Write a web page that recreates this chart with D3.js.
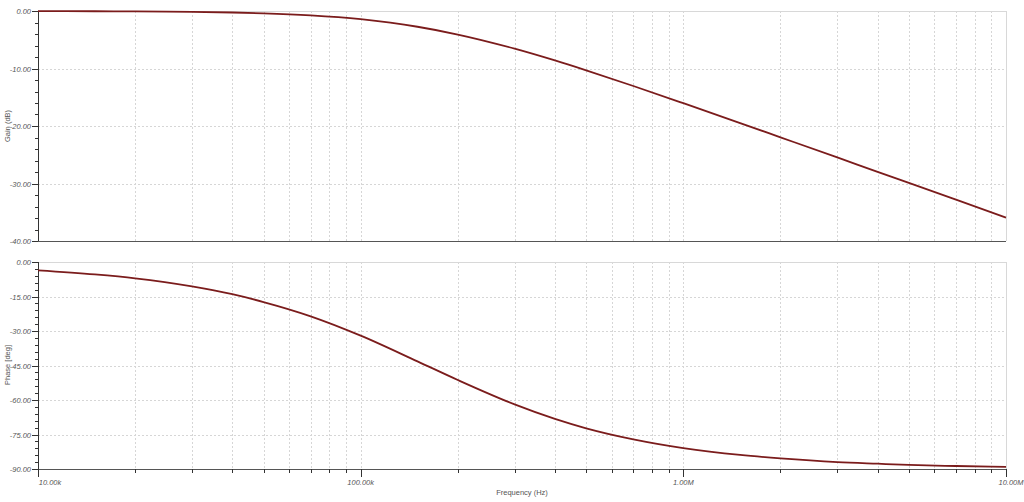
<!DOCTYPE html>
<html><head><meta charset="utf-8">
<script src="https://cdn.jsdelivr.net/npm/d3@7"></script>
<style>body{margin:0;background:#fff}svg{display:block}text{font-family:"Liberation Sans",Arial,sans-serif}</style>
</head><body><svg id="c" width="1024" height="502"></svg>
<script>
// Frequencies (Hz)
const freqs = [10e3,15e3,20e3,30e3,40e3,50e3,70e3,100e3,150e3,200e3,300e3,400e3,500e3,700e3,1e6,1.5e6,2e6,3e6,4e6,5e6,7e6,10e6];
// Gain (dB)
const gainDb = [-0.02,-0.04,-0.07,-0.15,-0.26,-0.40,-0.76,-1.43,-2.74,-4.09,-6.55,-8.60,-10.32,-13.04,-16.03,-19.49,-21.97,-25.47,-27.97,-29.90,-32.82,-35.92];
// Phase (deg)
const phaseDeg = [-3.6,-5.4,-7.1,-10.6,-14.0,-17.4,-23.6,-32.0,-43.2,-51.3,-61.9,-68.2,-72.3,-77.1,-80.9,-83.9,-85.4,-87.0,-87.7,-88.2,-88.7,-89.1];
const xTickVals = [1e4,1e5,1e6,1e7];
const xTickLabels = ["10.00k","100.00k","1.00M","10.00M"];
const gainTicks = [0,-10,-20,-30,-40];
const phaseTicks = [0,-15,-30,-45,-60,-75,-90];

const svg = d3.select("#c");
const x = d3.scaleLog().domain([1e4,1e7]).range([38,1006]);
const yG = d3.scaleLinear().domain([-40,0]).range([241,11]);
const yP = d3.scaleLinear().domain([-90,0]).range([469,262]);

const minorX = [];
for (let d=1e4; d<1e7; d*=10) for (let k=1;k<10;k++) minorX.push(d*k);
minorX.push(1e7);

function panel(y, ticks, step, label, data, labelY){
  const [y0,y1] = y.domain();
  const g = svg.append("g");
  g.selectAll(".vg").data(minorX.filter(v=>v>1e4&&v<1e7)).enter().append("line")
    .attr("x1",d=>Math.round(x(d))+0.5).attr("x2",d=>Math.round(x(d))+0.5).attr("y1",y(y1)).attr("y2",y(y0))
    .attr("stroke","#d6d6d6").attr("stroke-width",1).attr("stroke-dasharray","2,2");
  g.selectAll(".hg").data(ticks.filter(t=>t!==y0&&t!==y1)).enter().append("line")
    .attr("x1",38).attr("x2",1006).attr("y1",d=>Math.round(y(d))+0.5).attr("y2",d=>Math.round(y(d))+0.5)
    .attr("stroke","#d6d6d6").attr("stroke-dasharray","2,2");
  g.append("line").attr("x1",38).attr("x2",1006).attr("y1",y(y1)+0.5).attr("y2",y(y1)+0.5).attr("stroke","#d8d8d8");
  g.append("line").attr("x1",1006.5).attr("x2",1006.5).attr("y1",y(y1)).attr("y2",y(y0)).attr("stroke","#d8d8d8");
  g.append("line").attr("x1",38).attr("x2",1006).attr("y1",y(y0)+0.5).attr("y2",y(y0)+0.5).attr("stroke","#555");
  g.append("line").attr("x1",38.5).attr("x2",38.5).attr("y1",y(y1)).attr("y2",y(y0)).attr("stroke","#333");
  const minors = d3.range(y0, y1+0.001, step);
  g.selectAll(".mt").data(minors).enter().append("line")
    .attr("x1",35).attr("x2",38).attr("y1",d=>Math.round(y(d))+0.5).attr("y2",d=>Math.round(y(d))+0.5).attr("stroke","#333");
  g.selectAll(".Mt").data(ticks).enter().append("line")
    .attr("x1",32).attr("x2",38).attr("y1",d=>Math.round(y(d))+0.5).attr("y2",d=>Math.round(y(d))+0.5).attr("stroke","#333");
  g.selectAll(".tl").data(ticks).enter().append("text")
    .attr("x",31).attr("y",d=>y(d)+3).attr("text-anchor","end")
    .attr("font-size",7.5).attr("font-style","italic").attr("fill","#555")
    .text(d=>d.toFixed(2));
  g.append("text").attr("transform",`translate(10,${labelY}) rotate(-90)`)
    .attr("text-anchor","middle").attr("font-size",7.5).attr("fill","#555").text(label);
  const line = d3.line().x((d,i)=>x(freqs[i])).y(d=>y(d)).curve(d3.curveMonotoneX);
  g.append("path").datum(data).attr("d",line).attr("fill","none")
    .attr("stroke","#7b1c1c").attr("stroke-width",1.8);
}
panel(yG, gainTicks, 2, "Gain (dB)", gainDb, 126);
panel(yP, phaseTicks, 3, "Phase [deg]", phaseDeg, 365);

svg.selectAll(".xm").data(minorX).enter().append("line")
  .attr("x1",d=>Math.round(x(d))+0.5).attr("x2",d=>Math.round(x(d))+0.5)
  .attr("y1",469).attr("y2",d=>xTickVals.includes(d)?477:473).attr("stroke","#333");
svg.selectAll(".xl").data(xTickVals).enter().append("text")
  .attr("x",(d,i)=>x(d)+(i===3?5:i===0?12:0)).attr("y",485).attr("text-anchor","middle")
  .attr("font-size",7.5).attr("font-style","italic").attr("fill","#555")
  .text((d,i)=>xTickLabels[i]);
svg.append("text").attr("x",522).attr("y",495).attr("text-anchor","middle")
  .attr("font-size",7.5).attr("fill","#555").text("Frequency (Hz)");
</script></body></html>
